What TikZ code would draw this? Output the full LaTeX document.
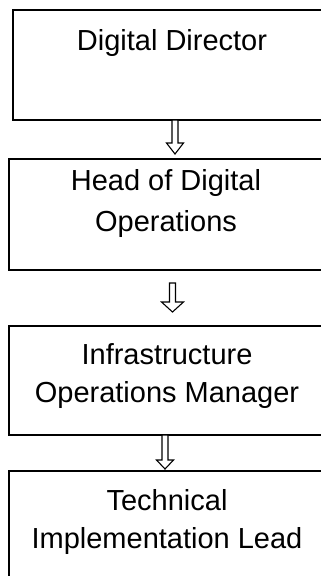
\documentclass[tikz,border=0pt]{standalone}
\usepackage{fontspec}
\setmainfont{Liberation Sans}
\newcommand\hollowdown[6]{%
  \draw[harrow] ({#1-#5},#2) -- ({#1-#5},#3) -- ({#1-#6},#3) -- (#1,#4) -- ({#1+#6},#3) -- ({#1+#5},#3) -- ({#1+#5},#2) -- cycle;}
\begin{document}
\begin{tikzpicture}[x=1pt,y=-1pt,
  box/.style={draw, line width=1.2pt, rectangle, inner sep=0pt},
  lbl/.style={font=\fontsize{29}{38}\selectfont, anchor=base, inner sep=0pt},
  harrow/.style={draw, line width=1.1pt, line join=miter, fill=white}]
\useasboundingbox (0,0) rectangle (321,576);
\clip (0,0) rectangle (321,576);
\node[box, minimum width=322pt, minimum height=110pt] (b1) at (174,65) {};
\node[box, minimum width=326pt, minimum height=111pt] (b2) at (172,214.5) {};
\node[box, minimum width=326pt, minimum height=109pt] (b3) at (172,380.5) {};
\node[box, minimum width=326pt, minimum height=149pt] (b4) at (172,545.5) {};
\node[lbl] (t1) at (172,50) {Digital Director};
\node[lbl] (t2a) at (166,190) {Head of Digital};
\node[lbl] (t2b) at (166,231) {Operations};
\node[lbl] (t3a) at (167,364) {Infrastructure};
\node[lbl] (t3b) at (167,402) {Operations Manager};
\node[lbl] (t4a) at (167,510) {Technical};
\node[lbl] (t4b) at (167,548) {Implementation Lead};
\hollowdown{175}{120}{143}{154}{3}{8.5}
\hollowdown{172.5}{283}{302}{312}{3}{11}
\hollowdown{165}{435}{460}{469}{3}{8.5}
\end{tikzpicture}
\end{document}
